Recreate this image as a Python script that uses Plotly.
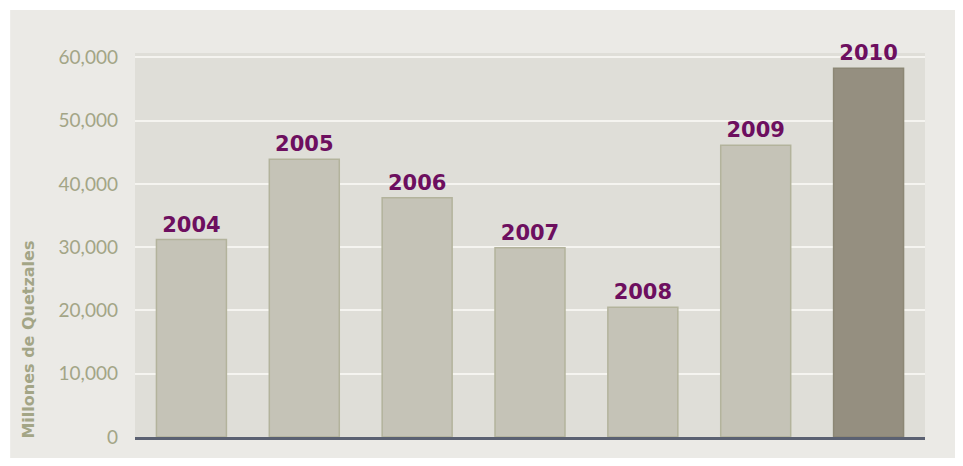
import plotly.graph_objects as go

years = ["2004", "2005", "2006", "2007", "2008", "2009", "2010"]
values = [31200, 43900, 37800, 29900, 20500, 46100, 58300]
tick_vals = [0, 10000, 20000, 30000, 40000, 50000, 60000]
tick_text = ["0", "10,000", "20,000", "30,000", "40,000", "50,000", "60,000"]
y_title = "Millones de Quetzales"

bar_colors = ["#c5c3b7"] * 6 + ["#958f80"]
line_colors = ["#b3b39c"] * 6 + ["#8c8775"]

fig = go.Figure(go.Bar(
    x=years, y=values,
    marker=dict(color=bar_colors, line=dict(color=line_colors, width=1.5)),
    text=years, textposition="outside", cliponaxis=False,
    textfont=dict(family="DejaVu Sans", size=21, color="#6d0f5f", weight="bold"),
    hoverinfo="skip",
))

fig.update_layout(
    width=947, height=450,
    margin=dict(l=127, r=30, t=45, b=21, autoexpand=False),
    paper_bgcolor="white",
    plot_bgcolor="rgba(0,0,0,0)",
    bargap=0.38,
    showlegend=False,
    shapes=[
        dict(type="rect", xref="paper", yref="paper", x0=-0.158, x1=1.038, y0=-0.065, y1=1.112,
             fillcolor="#ebeae6", line=dict(width=0), layer="below"),
        dict(type="rect", xref="paper", yref="paper", x0=0, x1=1, y0=0, y1=1,
             fillcolor="#dfded8", line=dict(width=0), layer="below"),
    ],
    annotations=[
        dict(text=y_title, xref="paper", yref="paper", x=-0.136, y=0.2526,
             xanchor="center", yanchor="middle", textangle=-90, showarrow=False,
             font=dict(family="DejaVu Sans", size=16, color="#a3a586", weight="bold")),
    ],
)
fig.update_xaxes(showticklabels=False, showgrid=False, showline=True, linecolor="#5b6172",
                 linewidth=2.5, ticks="", range=[-0.5, 6.5], fixedrange=True)
fig.update_yaxes(range=[0, 60700], tickvals=tick_vals, ticktext=tick_text, showgrid=True,
                 gridcolor="#f5f4f0", gridwidth=2, zeroline=False, showline=False, ticks="",
                 ticklabelstandoff=16,
                 tickfont=dict(family="Lato", size=19, color="#a3a586"),
                 automargin=False)

fig.write_html("out.html")
